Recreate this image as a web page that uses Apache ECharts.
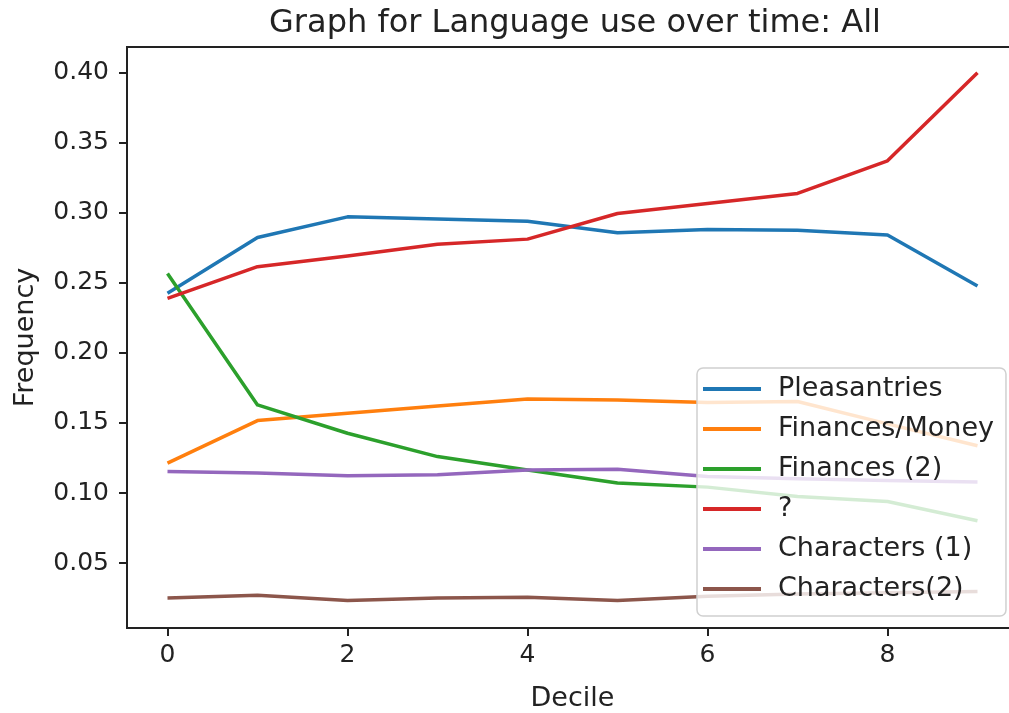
<!DOCTYPE html>
<html>
<head>
<meta charset="utf-8">
<script src="https://cdn.jsdelivr.net/npm/echarts@6/dist/echarts.min.js"></script>
<style>
  html, body { margin: 0; padding: 0; background: #fff; }
  #chart { width: 1009px; height: 713px; }
</style>
</head>
<body>
<div id="chart"></div>
<script>
// deciles 0..9
var deciles = [0, 1, 2, 3, 4, 5, 6, 7, 8, 9];
var seriesNames = ['Pleasantries', 'Finances/Money', 'Finances (2)', '?', 'Characters (1)', 'Characters(2)'];
var pleasantries = [0.2426, 0.2825, 0.2972, 0.2956, 0.2941, 0.2858, 0.2882, 0.2877, 0.2842, 0.2478];
var financesMoney = [0.1213, 0.1517, 0.1570, 0.1622, 0.1672, 0.1665, 0.1646, 0.1653, 0.1494, 0.1337];
var finances2 = [0.2568, 0.1629, 0.1427, 0.1260, 0.1165, 0.1071, 0.1042, 0.0975, 0.0939, 0.0802];
var question = [0.2390, 0.2616, 0.2692, 0.2777, 0.2813, 0.2996, 0.3068, 0.3139, 0.3372, 0.4002];
var characters1 = [0.1153, 0.1142, 0.1123, 0.1130, 0.1165, 0.1170, 0.1118, 0.1101, 0.1089, 0.1078];
var characters2 = [0.0250, 0.0269, 0.0233, 0.0250, 0.0255, 0.0233, 0.0262, 0.0279, 0.0288, 0.0297];
var xTicks = [0, 2, 4, 6, 8];
var yTicks = [0.05, 0.10, 0.15, 0.20, 0.25, 0.30, 0.35, 0.40];

var colors = ['#1f77b4', '#ff7f0e', '#2ca02c', '#d62728', '#9467bd', '#8c564b'];
var allValues = [pleasantries, financesMoney, finances2, question, characters1, characters2];
var font = 'DejaVu Sans';
var ink = '#222';

// matplotlib style 5% margins
var xMin = -0.45, xMax = 9.45;
var yMin = 0.0036, yMax = 0.4185;

var series = [];
for (var s = 0; s < seriesNames.length; s++) {
  series.push({
    name: seriesNames[s],
    type: 'line',
    showSymbol: false,
    symbol: 'none',
    data: deciles.map(function (d, i) { return [d, allValues[s][i]] }),
    lineStyle: { width: 3.5, color: colors[s], join: 'round' },
    itemStyle: { color: colors[s] },
    z: 2
  });
}

var myChart = echarts.init(document.getElementById('chart'));
myChart.setOption({
  animation: false,
  backgroundColor: '#fff',
  textStyle: { fontFamily: font },
  title: {
    text: 'Graph for Language use over time: All',
    left: 570,
    top: 3,
    textAlign: 'center',
    textStyle: { fontFamily: font, fontSize: 32, fontWeight: 'normal', color: ink }
  },
  grid: {
    left: 127, top: 47, width: 891, height: 581,
    outerBoundsMode: 'none',
    containLabel: false,
    show: true, borderColor: ink, borderWidth: 2, backgroundColor: 'transparent'
  },
  legend: {
    orient: 'vertical',
    left: 697, top: 368,
    icon: 'rect',
    itemWidth: 58, itemHeight: 4, itemGap: 10,
    padding: [6, 12, 12, 6],
    backgroundColor: 'rgba(255,255,255,0.8)',
    borderColor: '#d0d0d0', borderWidth: 1.5, borderRadius: 6,
    textStyle: { fontFamily: font, fontSize: 27, lineHeight: 30, color: ink, padding: [0, 0, 0, 12] },
    data: seriesNames,
    z: 4
  },
  xAxis: {
    type: 'value',
    min: xMin, max: xMax,
    name: 'Decile',
    nameLocation: 'middle',
    nameGap: 57,
    nameTextStyle: { fontFamily: font, fontSize: 27, color: ink },
    axisLine: { show: false, onZero: false },
    axisTick: { show: true, inside: false, length: 8, lineStyle: { color: ink, width: 2 }, customValues: xTicks },
    axisLabel: { fontFamily: font, fontSize: 25, color: ink, margin: 15, customValues: xTicks },
    splitLine: { show: false }
  },
  yAxis: {
    type: 'value',
    min: yMin, max: yMax,
    name: 'Frequency',
    nameLocation: 'middle',
    nameRotate: 90,
    nameGap: 88,
    nameTextStyle: { fontFamily: font, fontSize: 27, color: ink },
    axisLine: { show: false, onZero: false },
    axisTick: { show: true, inside: false, length: 8, lineStyle: { color: ink, width: 2 }, customValues: yTicks },
    axisLabel: {
      fontFamily: font, fontSize: 25, color: ink, margin: 18, customValues: yTicks,
      formatter: function (v) { return v.toFixed(2) }
    },
    splitLine: { show: false }
  },
  series: series
});
</script>
</body>
</html>
